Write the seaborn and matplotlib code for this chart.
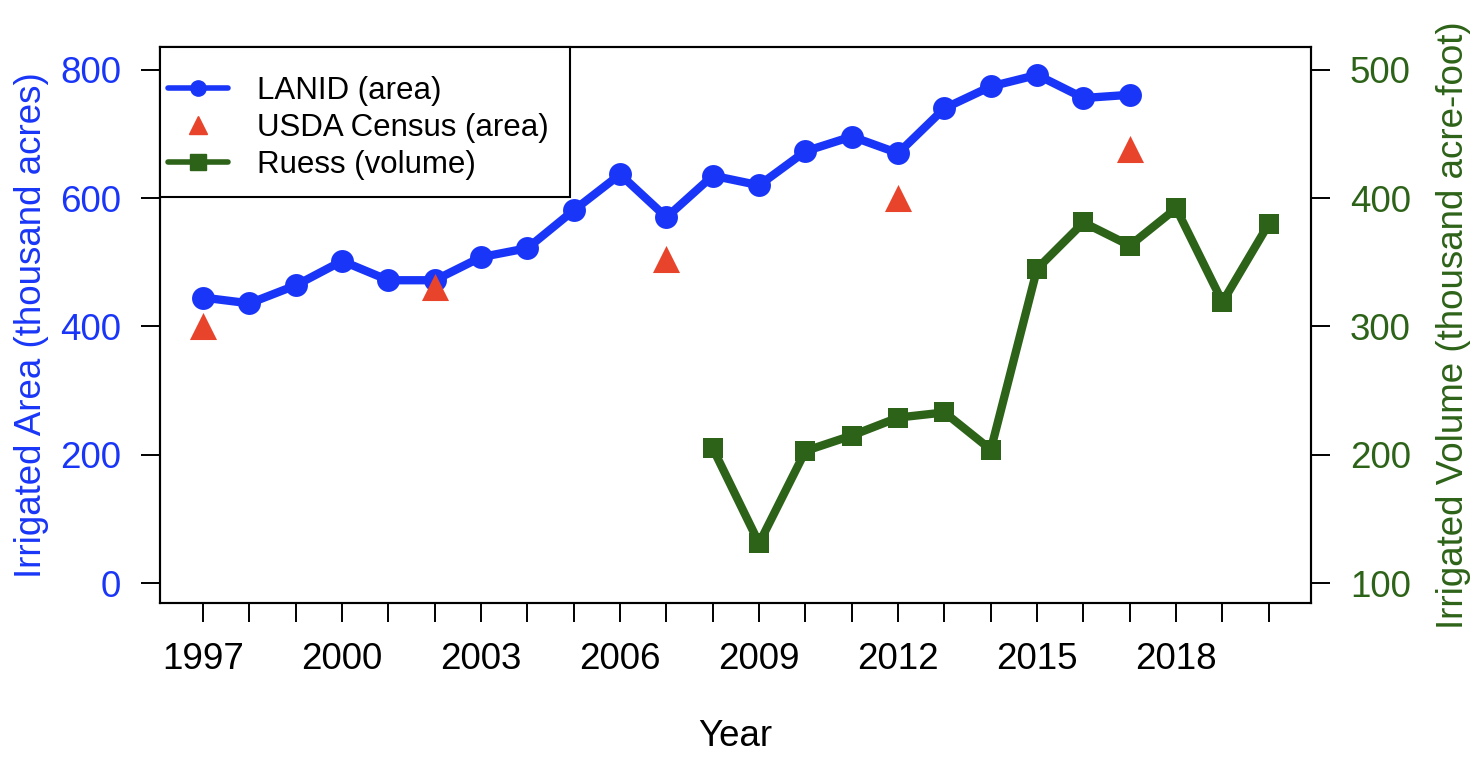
import matplotlib
matplotlib.use("Agg")
import matplotlib.pyplot as plt
import seaborn as sns
import pandas as pd
from matplotlib.lines import Line2D
from matplotlib.patches import Rectangle

# ---- data ----
lanid_years = list(range(1997, 2018))
lanid_area = [445, 436, 464, 502, 472, 472, 508, 522, 581, 637, 570,
              635, 620, 673, 696, 670, 740, 774, 792, 756, 761]
usda_years = [1997, 2002, 2007, 2012, 2017]
usda_area = [400, 462, 505, 600, 676]
ruess_years = list(range(2008, 2021))
ruess_volume = [205, 131, 203, 215, 229, 233, 204, 345, 381, 363, 392, 319, 380]
x_tick_years = list(range(1997, 2021))
x_label_years = [1997, 2000, 2003, 2006, 2009, 2012, 2015, 2018]
left_ticks = [0, 200, 400, 600, 800]
right_ticks = [100, 200, 300, 400, 500]

BLUE = "#1936f8"
RED = "#e8442b"
GREEN = "#2d6318"

sns.set_theme(style="white")
plt.rcParams["font.family"] = ["Liberation Sans", "DejaVu Sans"]

W, H = 1478, 758
fig = plt.figure(figsize=(W / 100, H / 100), dpi=100)
ax_l, ax_r, ax_t, ax_b = 160, 1311, 47, 603
ax = fig.add_axes([ax_l / W, 1 - ax_b / H, (ax_r - ax_l) / W, (ax_b - ax_t) / H])
ax2 = ax.twinx()

df_lanid = pd.DataFrame({"Year": lanid_years, "Area": lanid_area})
df_usda = pd.DataFrame({"Year": usda_years, "Area": usda_area})
df_ruess = pd.DataFrame({"Year": ruess_years, "Volume": ruess_volume})

sns.lineplot(data=df_lanid, x="Year", y="Area", ax=ax, color=BLUE, lw=6,
             marker="o", markersize=16.5, markeredgewidth=0, legend=False, zorder=3)
sns.scatterplot(data=df_usda, x="Year", y="Area", ax=ax, color=RED, marker="^",
                s=380, linewidth=0, legend=False, zorder=4)
sns.lineplot(data=df_ruess, x="Year", y="Volume", ax=ax2, color=GREEN, lw=6,
             marker="s", markersize=15, markeredgewidth=0, legend=False, zorder=3)

ax.set_xlim(1996.07, 2020.91)
ax.set_ylim(-31, 835.5)
ax2.set_ylim(84.5, 517.75)

ax.set_xticks(x_tick_years)
ax.set_xticklabels([str(y) if y in x_label_years else "" for y in x_tick_years])
ax.set_yticks(left_ticks)
ax.set_yticklabels([str(v) for v in left_ticks])
ax2.set_yticks(right_ticks)
ax2.set_yticklabels([str(v) for v in right_ticks])

for a in (ax, ax2):
    for s in a.spines.values():
        s.set_color("black")
        s.set_linewidth(1.5)
    a.grid(False)

ax.tick_params(axis="x", direction="out", length=14, width=1.4, color="black",
               labelsize=26.5, labelcolor="black", pad=14, bottom=True)
ax.tick_params(axis="y", direction="out", length=14, width=1.4, color="black",
               labelsize=26.5, labelcolor=BLUE, pad=14, left=True)
ax2.tick_params(axis="y", direction="out", length=14, width=1.4, color="black",
                labelsize=26.5, labelcolor=GREEN, pad=14, right=True)

ax.set_xlabel("Year", fontsize=26.5, color="black", labelpad=30)
ax.set_ylabel("Irrigated Area (thousand acres)", fontsize=26.5, color=BLUE, labelpad=8)
ax2.set_ylabel("Irrigated Volume (thousand acre-foot)", fontsize=26.5, color=GREEN,
               labelpad=18)

# legend frame (R-style box in the top-left corner)
box_w = (570 - ax_l) / (ax_r - ax_l)
box_h = (197 - ax_t) / (ax_b - ax_t)
ax2.add_patch(Rectangle((0, 1 - box_h), box_w, box_h, transform=ax2.transAxes,
                        facecolor="white", edgecolor="black", linewidth=1.5,
                        zorder=6, clip_on=False))

handles = [
    Line2D([], [], color=BLUE, lw=4, marker="o", markersize=11),
    Line2D([], [], color=RED, lw=0, marker="^", markersize=13),
    Line2D([], [], color=GREEN, lw=4, marker="s", markersize=11),
]
labels = ["LANID (area)", "USDA Census (area)", "Ruess (volume)"]
leg = fig.legend(handles, labels, loc="upper left",
                 bbox_to_anchor=(168 / W, 1 - 76 / H),
                 fontsize=22.5, frameon=False, borderaxespad=0, borderpad=0,
                 handlelength=1.92, handletextpad=0.93, labelspacing=0.23,
                 labelcolor="black")
leg.set_zorder(10)

fig.savefig("out.png", dpi=100)
